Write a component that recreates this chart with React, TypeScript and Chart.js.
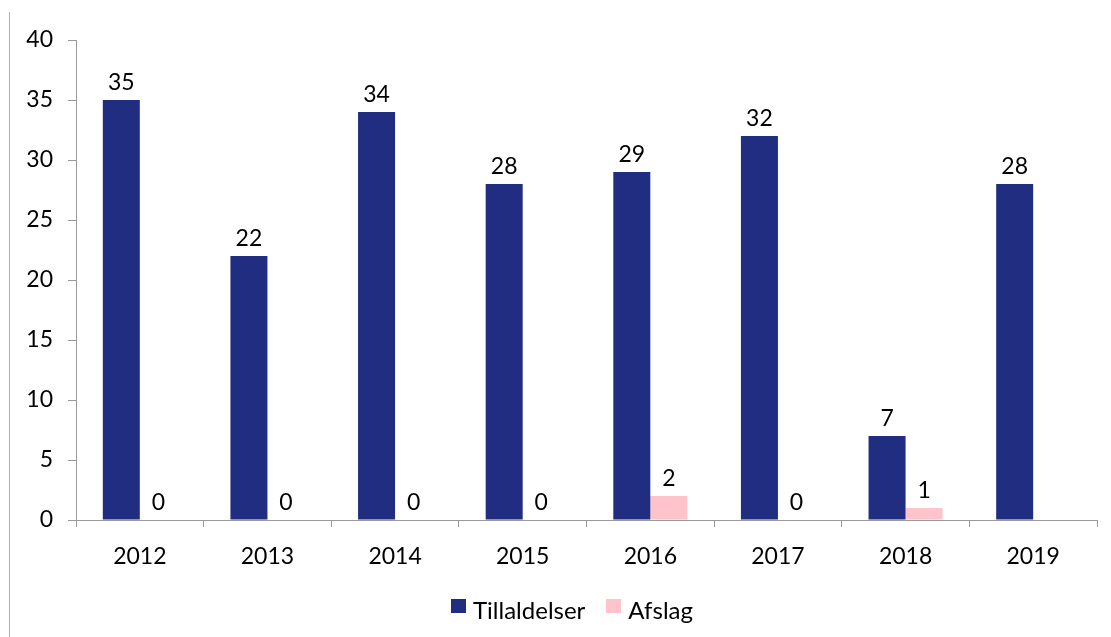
import React, { useEffect, useRef } from "react";
import { Chart, registerables } from "chart.js";

Chart.register(...registerables);

const categories = ["2012", "2013", "2014", "2015", "2016", "2017", "2018", "2019"];
const tillaldelser = [35, 22, 34, 28, 29, 32, 7, 28];
const afslag: (number | null)[] = [0, 0, 0, 0, 2, 0, 1, null];
const yTicks = [0, 5, 10, 15, 20, 25, 30, 35, 40];
const seriesNames = ["Tillaldelser", "Afslag"];

const FONT = "Lato, 'Open Sans', sans-serif";
const NAVY = "#212D80";
const PINK = "#FFC4CB";
const AXIS = "#9a9a9a";
const seriesColors = [NAVY, PINK];

const valueLabels = {
  id: "valueLabels",
  afterDatasetsDraw(chart: any) {
    const ctx = chart.ctx;
    ctx.save();
    ctx.font = `23px ${FONT}`;
    ctx.fillStyle = "#000";
    ctx.textAlign = "center";
    ctx.textBaseline = "alphabetic";
    chart.data.datasets.forEach((ds: any, i: number) => {
      const meta = chart.getDatasetMeta(i);
      meta.data.forEach((bar: any, j: number) => {
        const v = ds.data[j];
        if (v === null || v === undefined) return;
        ctx.fillText(String(v), bar.x, bar.y - 10);
      });
    });
    ctx.restore();
  },
};

export default function App() {
  const ref = useRef<HTMLCanvasElement>(null);
  useEffect(() => {
    if (!ref.current) return;
    const chart = new Chart(ref.current, {
      type: "bar",
      data: {
        labels: categories,
        datasets: [
          { label: seriesNames[0], data: tillaldelser, backgroundColor: NAVY },
          { label: seriesNames[1], data: afslag, backgroundColor: PINK },
        ],
      },
      options: {
        animation: false,
        responsive: false,
        maintainAspectRatio: false,
        layout: { padding: { top: 40, left: 0, right: 14, bottom: 57 } },
        datasets: {
          bar: { categoryPercentage: 0.58, barPercentage: 1.0 },
        },
        scales: {
          x: {
            grid: { drawOnChartArea: false, drawTicks: true, tickLength: 7, color: AXIS },
            border: { color: AXIS },
            ticks: { color: "#000", font: { family: FONT, size: 23 }, padding: 16 },
            afterFit: (s: any) => { s.height = 60; },
          },
          y: {
            min: 0,
            max: 40,
            afterBuildTicks: (s: any) => { s.ticks = yTicks.map((v) => ({ value: v })); },
            grid: { drawOnChartArea: false, drawTicks: true, tickLength: 8, color: AXIS },
            border: { color: AXIS },
            ticks: { color: "#000", font: { family: FONT, size: 23 }, padding: 15 },
            afterFit: (s: any) => { s.width = 76; },
          },
        },
        plugins: {
          legend: { display: false },
          tooltip: { enabled: false },
        },
      },
      plugins: [valueLabels],
    });
    return () => chart.destroy();
  }, []);
  return (
    <div style={{ position: "absolute", left: 0, top: 0, width: 1111, height: 637, background: "#fff" }}>
      <div style={{ position: "absolute", left: 9, top: 12, width: 1, height: 625, background: "#b0b0b0" }} />
      <canvas ref={ref} width={1111} height={637} style={{ position: "absolute", left: 0, top: 0 }} />
      <div
        style={{
          position: "absolute",
          left: 451,
          top: 598,
          display: "flex",
          alignItems: "flex-start",
          fontFamily: FONT,
          fontSize: 24,
          lineHeight: "24px",
          color: "#000",
          whiteSpace: "nowrap",
        }}
      >
        {seriesNames.map((name, i) => (
          <div key={name} style={{ display: "flex", alignItems: "flex-start", marginRight: i === 0 ? 21 : 0 }}>
            <span style={{ width: 15, height: 14, marginTop: 1, background: seriesColors[i], display: "inline-block", marginRight: 7 }} />
            <span>{name}</span>
          </div>
        ))}
      </div>
    </div>
  );
}
